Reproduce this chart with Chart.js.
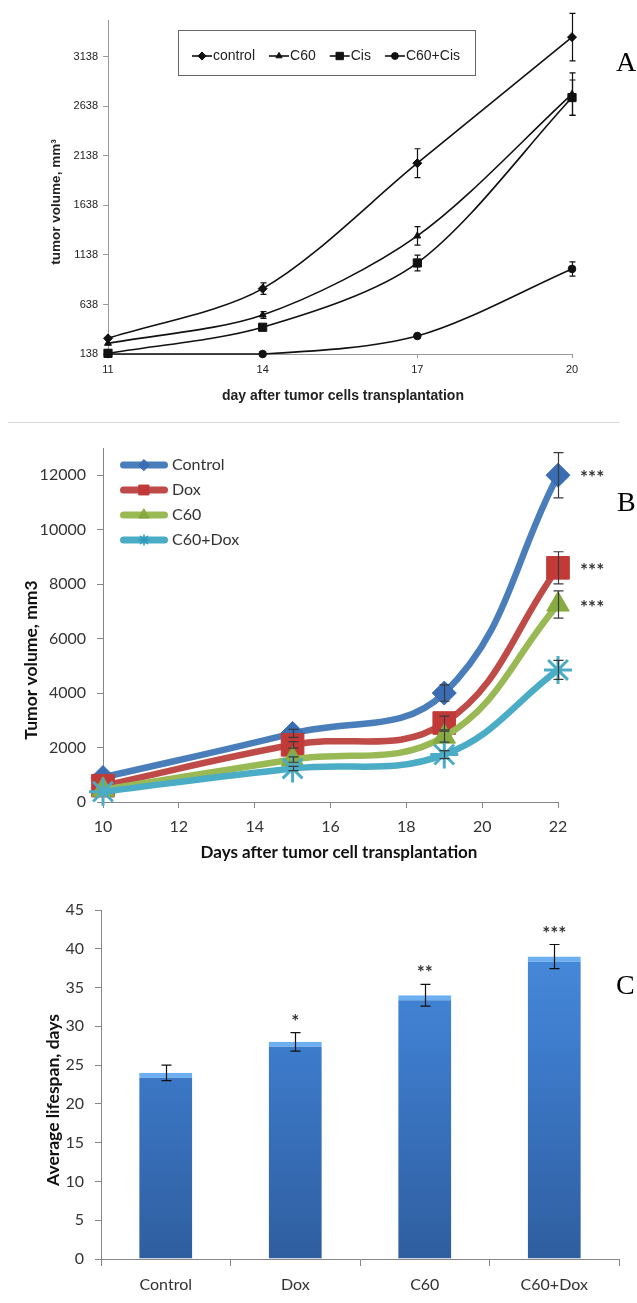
<!DOCTYPE html>
<html><head><meta charset="utf-8">
<script src="https://cdn.jsdelivr.net/npm/chart.js@4.4.1/dist/chart.umd.min.js"></script>
<style>
html,body{margin:0;padding:0;background:#fff;}
#page{position:relative;width:637px;height:1303px;overflow:hidden;background:#fff;}
canvas{position:absolute;left:0;}
.lbl{position:absolute;font-family:"Liberation Serif","Times New Roman",serif;font-size:28px;line-height:1;color:#000;}
.sep{position:absolute;left:8px;top:422px;width:612px;height:1px;background:#d9d9d9;}
</style></head>
<body>
<div id="page">
<canvas id="cA" width="637" height="420" style="top:0px"></canvas>
<div class="sep"></div>
<canvas id="cB" width="637" height="460" style="top:420px"></canvas>
<canvas id="cC" width="637" height="423" style="top:880px"></canvas>
<div class="lbl" style="left:616px;top:48px">A</div>
<div class="lbl" style="left:617px;top:488px">B</div>
<div class="lbl" style="left:616px;top:971px">C</div>
</div>
<script>
// ---------- Panel A data ----------
const daysA = [11, 14, 17, 20];
const controlA = [296, 798, 2064, 3337];
const c60A = [246, 532, 1330, 2761];
const cisA = [145, 408, 1057, 2727];
const c60cisA = [138, 138, 320, 997];
const controlAErr = [0, 59, 146, 239];
const c60AErr = [0, 34, 93, 215];
const cisAErr = [0, 0, 79, 177];
const c60cisAErr = [0, 0, 0, 72];
const yTicksA = [138, 638, 1138, 1638, 2138, 2638, 3138];

// ---------- Panel B data ----------
const daysB = [10, 15, 19, 22];
const controlB = [900, 2520, 4000, 12000];
const doxB = [600, 2100, 2900, 8600];
const c60B = [450, 1560, 2400, 7250];
const c60doxB = [380, 1230, 1740, 4850];
const controlBErr = [0, 150, 300, 830];
const doxBErr = [0, 120, 250, 590];
const c60BErr = [0, 100, 200, 500];
const c60doxBErr = [0, 80, 150, 350];
const starsB = ['***', '***', '***', ''];
const yTicksB = [0, 2000, 4000, 6000, 8000, 10000, 12000];
const xTicksB = [10, 12, 14, 16, 18, 20, 22];

// ---------- Panel C data ----------
const groupsC = ['Control', 'Dox', 'C60', 'C60+Dox'];
const lifespanC = [24, 28, 34, 39];
const lifespanCErr = [1.0, 1.2, 1.4, 1.55];
const starsC = ['', '*', '**', '***'];

const FA = '"Liberation Sans", Arial, sans-serif';
const FB = 'Lato, "Open Sans", sans-serif';
const pts = (xs, ys) => xs.map((x, i) => ({x: x, y: ys[i]}));
const plain = v => String(v);

function area(W, H, l, t, r, b) {
  return {pad: {left: 0, top: t, right: W - r, bottom: 0}, yw: l, xh: H - b};
}

const errorBars = {
  id: 'errorBars',
  afterDatasetsDraw(chart, args, o) {
    const c = chart.ctx, ys = chart.scales.y;
    c.save();
    c.strokeStyle = o.color; c.lineWidth = o.width;
    chart.data.datasets.forEach((ds, i) => {
      const errs = o.errors[i], vals = o.values[i];
      if (!errs) return;
      chart.getDatasetMeta(i).data.forEach((el, j) => {
        const e = errs[j];
        if (!e) return;
        const x = Math.round(el.x) + 0.5;
        const y1 = ys.getPixelForValue(vals[j] + e), y2 = ys.getPixelForValue(vals[j] - e);
        c.beginPath();
        c.moveTo(x, y1); c.lineTo(x, y2);
        c.moveTo(x - o.cap, y1); c.lineTo(x + o.cap, y1);
        c.moveTo(x - o.cap, y2); c.lineTo(x + o.cap, y2);
        c.stroke();
      });
    });
    c.restore();
  }
};

const axisTitles = {
  id: 'axisTitles',
  afterDraw(chart, args, o) {
    const c = chart.ctx;
    (o.items || []).forEach(it => {
      c.save();
      c.translate(it.x, it.y);
      if (it.rotate) c.rotate(-Math.PI / 2);
      c.font = it.font; c.fillStyle = it.color || '#222';
      c.textAlign = 'center'; c.textBaseline = 'middle';
      c.fillText(it.text, 0, 0);
      c.restore();
    });
  }
};

// ---------- Panel A ----------
const legendBoxA = {
  id: 'legendBoxA',
  afterDraw(chart) {
    const c = chart.ctx;
    c.save();
    c.fillStyle = '#fff'; c.strokeStyle = '#666'; c.lineWidth = 1;
    c.fillRect(178.5, 30.5, 297, 45); c.strokeRect(178.5, 30.5, 297, 45);
    c.font = '14px ' + FA; c.textBaseline = 'middle'; c.textAlign = 'left';
    let x = 192; const y = 56;
    chart.data.datasets.forEach(ds => {
      c.strokeStyle = '#111'; c.fillStyle = '#111'; c.lineWidth = 1.6;
      c.beginPath(); c.moveTo(x, y); c.lineTo(x + 20, y); c.stroke();
      c.lineWidth = 1;
      Chart.helpers.drawPoint(c, {pointStyle: ds.pointStyle, radius: ds.pointRadius * 0.9, borderWidth: 1, rotation: 0}, x + 10, y);
      c.fillStyle = '#222';
      c.fillText(ds.label, x + 21, y + 0.5);
      x += 21 + c.measureText(ds.label).width + 14;
    });
    c.restore();
  }
};

const aA = area(637, 420, 108, 20, 572, 354);
const lineA = {borderColor: '#111', backgroundColor: '#111', pointBorderColor: '#111', pointBackgroundColor: '#111',
  borderWidth: 1.6, tension: 0.3, pointBorderWidth: 1, clip: false, fill: false};
new Chart(document.getElementById('cA'), {
  type: 'line',
  data: {datasets: [
    Object.assign({label: 'control', data: pts(daysA, controlA), pointStyle: 'rectRot', pointRadius: 4.5}, lineA),
    Object.assign({label: 'C60', data: pts(daysA, c60A), pointStyle: 'triangle', pointRadius: 4}, lineA),
    Object.assign({label: 'Cis', data: pts(daysA, cisA), pointStyle: 'rect', pointRadius: 5.8}, lineA),
    Object.assign({label: 'C60+Cis', data: pts(daysA, c60cisA), pointStyle: 'circle', pointRadius: 3.8}, lineA)
  ]},
  options: {
    responsive: false, animation: false, events: [],
    layout: {padding: aA.pad},
    plugins: {
      legend: {display: false}, tooltip: {enabled: false},
      errorBars: {errors: [controlAErr, c60AErr, cisAErr, c60cisAErr], values: [controlA, c60A, cisA, c60cisA], color: '#111', width: 1.2, cap: 3},
      axisTitles: {items: [
        {text: 'tumor volume, mm\u00B3', x: 56, y: 202, rotate: true, font: 'bold 13.5px ' + FA, color: '#222'},
        {text: 'day after tumor cells transplantation', x: 343, y: 396, font: 'bold 14px ' + FA, color: '#222'}
      ]}
    },
    scales: {
      x: {type: 'linear', min: 11, max: 20,
        afterBuildTicks: s => { s.ticks = daysA.map(v => ({value: v})); },
        afterFit: s => { s.height = aA.xh; },
        grid: {display: true, drawOnChartArea: false, tickLength: 4, color: '#999'},
        border: {color: '#999', width: 1},
        ticks: {font: {family: FA, size: 11}, color: '#222', padding: 5, callback: plain}},
      y: {type: 'linear', min: 138, max: 3510,
        afterBuildTicks: s => { s.ticks = yTicksA.map(v => ({value: v})); },
        afterFit: s => { s.width = aA.yw; },
        grid: {display: true, drawOnChartArea: false, tickLength: 5, color: '#999'},
        border: {color: '#999', width: 1},
        ticks: {font: {family: FA, size: 11}, color: '#222', padding: 5, callback: plain}}
    }
  },
  plugins: [errorBars, legendBoxA, axisTitles]
});

// ---------- Panel B ----------
function legendIcon(lineColor, fill, style, r, bw) {
  const cv = document.createElement('canvas');
  cv.width = 60; cv.height = 16;
  const c = cv.getContext('2d');
  c.lineCap = 'round'; c.strokeStyle = lineColor; c.lineWidth = 7;
  c.beginPath(); c.moveTo(15.5, 8); c.lineTo(56.5, 8); c.stroke();
  c.fillStyle = fill; c.strokeStyle = fill; c.lineWidth = bw;
  Chart.helpers.drawPoint(c, {pointStyle: style, radius: r, borderWidth: bw, rotation: 0}, 36, 8);
  return cv;
}
const iconsB = [
  legendIcon('#4a7ebb', '#3a6db3', 'rectRot', 5.5, 1),
  legendIcon('#be4b48', '#c0393a', 'rect', 7, 1),
  legendIcon('#98b954', '#85a83f', 'triangle', 6, 1),
  legendIcon('#4bacc6', '#2f98b8', 'star', 5, 1.6)
];

const starLabelsB = {
  id: 'starLabelsB',
  afterDraw(chart) {
    const c = chart.ctx;
    c.save(); c.font = 'bold 19px ' + FB; c.fillStyle = '#333'; c.textAlign = 'left'; c.textBaseline = 'alphabetic';
    chart.data.datasets.forEach((ds, i) => {
      const s = starsB[i];
      if (!s) return;
      const m = chart.getDatasetMeta(i).data;
      const el = m[m.length - 1];
      c.fillText(s, el.x + 22, el.y + 9);
    });
    c.restore();
  }
};

const aB = area(637, 460, 103, 28, 558, 382);
const lineB = (label, vals, color, mcolor, style, r, bw, ord) => ({
  label: label, data: pts(daysB, vals), borderColor: color, backgroundColor: mcolor,
  pointBackgroundColor: mcolor, pointBorderColor: style === 'star' ? color : mcolor,
  pointStyle: style, pointRadius: r, pointBorderWidth: bw, borderWidth: 6.5,
  tension: 0.4, clip: false, fill: false, order: ord, borderCapStyle: 'round', borderJoinStyle: 'round'
});
new Chart(document.getElementById('cB'), {
  type: 'line',
  data: {datasets: [
    lineB('Control', controlB, '#4a7ebb', '#3a6db3', 'rectRot', 12, 1, 4),
    lineB('Dox', doxB, '#be4b48', '#c23a38', 'rect', 16, 1, 3),
    lineB('C60', c60B, '#98b954', '#88ab41', 'triangle', 13, 1, 2),
    lineB('C60+Dox', c60doxB, '#4bacc6', '#4bacc6', 'star', 14, 3, 1)
  ]},
  options: {
    responsive: false, animation: false, events: [],
    layout: {padding: aB.pad},
    plugins: {
      tooltip: {enabled: false},
      legend: {display: true, position: 'chartArea', align: 'start',
        title: {display: true, text: ' ', font: {size: 10}, padding: {top: 16, bottom: 0}},
        labels: {usePointStyle: true, pointStyleWidth: 52, padding: 9, color: '#333',
          font: {family: FB, size: 16},
          generateLabels: ch => ch.data.datasets.map((ds, i) => ({
            text: ds.label, pointStyle: iconsB[i], datasetIndex: i, hidden: false,
            fillStyle: 'rgba(0,0,0,0)', strokeStyle: 'rgba(0,0,0,0)', lineWidth: 0, fontColor: '#333'}))}},
      errorBars: {errors: [controlBErr, doxBErr, c60BErr, c60doxBErr], values: [controlB, doxB, c60B, c60doxB], color: '#3a3a3a', width: 1.2, cap: 5},
      axisTitles: {items: [
        {text: 'Tumor volume, mm3', x: 31, y: 240, rotate: true, font: 'bold 17.5px ' + FB, color: '#111'},
        {text: 'Days after tumor cell transplantation', x: 339, y: 433, font: 'bold 17px ' + FB, color: '#111'}
      ]}
    },
    scales: {
      x: {type: 'linear', min: 10, max: 22,
        afterBuildTicks: s => { s.ticks = xTicksB.map(v => ({value: v})); },
        afterFit: s => { s.height = aB.xh; },
        grid: {display: true, drawOnChartArea: false, tickLength: 6, color: '#868686'},
        border: {color: '#868686', width: 1},
        ticks: {font: {family: FB, size: 16}, color: '#333', padding: 9, callback: plain}},
      y: {type: 'linear', min: 0, max: 13000,
        afterBuildTicks: s => { s.ticks = yTicksB.map(v => ({value: v})); },
        afterFit: s => { s.width = aB.yw; },
        grid: {display: true, drawOnChartArea: false, tickLength: 6, color: '#868686'},
        border: {color: '#868686', width: 1},
        ticks: {font: {family: FB, size: 16}, color: '#333', padding: 11, callback: plain}}
    }
  },
  plugins: [errorBars, starLabelsB, axisTitles]
});

// ---------- Panel C ----------
const starLabelsC = {
  id: 'starLabelsC',
  afterDraw(chart) {
    const c = chart.ctx, ys = chart.scales.y;
    c.save(); c.font = 'bold 19px ' + FB; c.fillStyle = '#333'; c.textAlign = 'center'; c.textBaseline = 'alphabetic';
    chart.getDatasetMeta(0).data.forEach((el, j) => {
      const s = starsC[j];
      if (!s) return;
      const top = ys.getPixelForValue(lifespanC[j] + lifespanCErr[j]);
      c.fillText(s, el.x, top - 5);
    });
    c.restore();
  }
};
const aC = area(637, 423, 101, 30, 619, 379);
new Chart(document.getElementById('cC'), {
  type: 'bar',
  data: {labels: groupsC, datasets: [{
    label: 'Average lifespan, days', data: lifespanC,
    backgroundColor: ctx => {
      const ch = ctx.chart, a = ch.chartArea;
      if (!a) return '#3b78c8';
      const g = ch.ctx.createLinearGradient(0, a.top, 0, a.bottom);
      g.addColorStop(0, '#4b8fe0'); g.addColorStop(0.4, '#3d7bcb'); g.addColorStop(1, '#2f5e9f');
      return g;
    },
    borderColor: '#6db0f2', borderWidth: {top: 5, left: 0, right: 0, bottom: 0}, borderSkipped: 'bottom',
    barPercentage: 0.41, categoryPercentage: 1
  }]},
  options: {
    responsive: false, animation: false, events: [],
    layout: {padding: aC.pad},
    plugins: {
      legend: {display: false}, tooltip: {enabled: false},
      errorBars: {errors: [lifespanCErr], values: [lifespanC], color: '#111', width: 1.2, cap: 5},
      axisTitles: {items: [
        {text: 'Average lifespan, days', x: 53, y: 220, rotate: true, font: 'bold 17.5px ' + FB, color: '#111'}
      ]}
    },
    scales: {
      x: {afterFit: s => { s.height = aC.xh; },
        grid: {display: true, drawOnChartArea: false, tickLength: 7, color: '#868686', offset: true},
        border: {color: '#868686', width: 1},
        ticks: {font: {family: FB, size: 16}, color: '#333', padding: 9}},
      y: {min: 0, max: 45,
        ticks: {stepSize: 5, font: {family: FB, size: 16}, color: '#333', padding: 11},
        afterFit: s => { s.width = aC.yw; },
        grid: {display: true, drawOnChartArea: false, tickLength: 6, color: '#868686'},
        border: {color: '#868686', width: 1}}
    }
  },
  plugins: [errorBars, starLabelsC, axisTitles]
});
</script>
</body></html>
